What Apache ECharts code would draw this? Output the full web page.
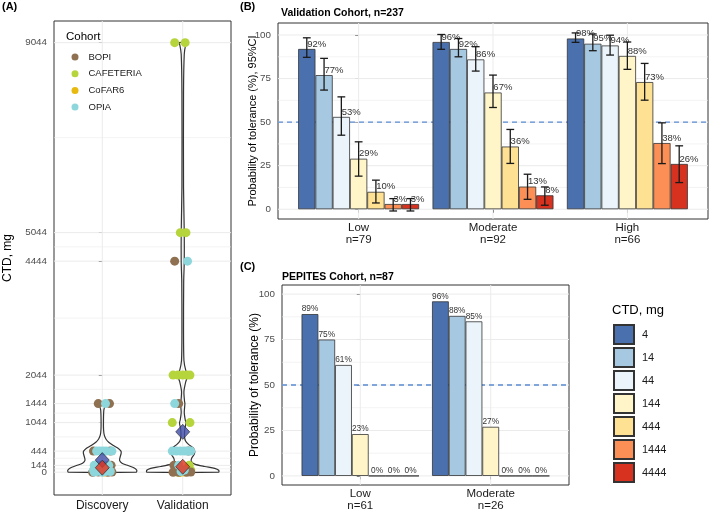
<!DOCTYPE html>
<html>
<head>
<meta charset="utf-8">
<title>CTD tolerance</title>
<script src="https://cdn.jsdelivr.net/npm/echarts@6/dist/echarts.min.js"></script>
<style>
  html, body { margin: 0; padding: 0; background: #fff; }
  #main { width: 709px; height: 518px; }
</style>
</head>
<body>
<div id="main"></div>
<script>
// ---- panel A : CTD distribution ----
var studyGroups = ['Discovery', 'Validation'];
var ctdTicks = [0, 144, 444, 1044, 1444, 2044, 4444, 5044, 9044];
var cohortNames = ['BOPI', 'CAFETERIA', 'CoFAR6', 'OPIA'];
// [group + jitter, CTD]
var bopiPts = [[-0.05, 1444], [0.09, 1444], [-0.11, 444], [0.1, 444], [-0.08, 144], [0.11, 144], [-0.09, 44], [0.1, 14], [-0.05, 4], [0.07, 0], [0.12, 4], [-0.12, 0],
  [0.9, 4444], [0.95, 1444], [1.07, 444], [0.89, 144], [0.9, 14], [0.95, 0], [1.05, 0], [0.88, 0], [1.1, 4]];
var cafeteriaPts = [[0.9, 9044], [1.03, 9044], [0.97, 5044], [1.04, 5044], [0.88, 2044], [0.94, 2044], [1.0, 2044], [1.05, 2044], [1.09, 2044],
  [0.87, 1044], [1.09, 1044], [1.08, 144], [1.1, 44], [0.93, 4], [1.06, 14]];
var cofar6Pts = [[0.03, 4], [1.02, 4], [0.97, 0]];
var opiaPts = [[0.04, 1444], [-0.07, 444], [-0.03, 444], [0.01, 444], [0.05, 444], [0.12, 444], [-0.1, 144], [-0.04, 144], [0.03, 144], [0.08, 144],
  [-0.11, 44], [-0.02, 44], [0.06, 44], [-0.07, 14], [0.04, 14], [-0.1, 4], [0.0, 0], [0.1, 14],
  [1.06, 4444], [0.9, 1444], [0.87, 444], [0.92, 444], [0.97, 444], [1.02, 444], [1.06, 444], [1.1, 444], [0.95, 144], [1.02, 44], [0.98, 14]];
var meanPts = [[0, 255], [1, 850]];
var medianPts = [[0, 95], [1, 115]];
// violin half-widths [CTD, half width in group units]
var discoveryViolin = [[0, .422], [40, .429], [90, .398], [140, .32], [190, .245], [250, .215], [320, .222], [400, .235], [444, .232], [500, .2],
  [560, .14], [630, .08], [700, .045], [780, .025], [900, .016], [1100, .015], [1300, .019], [1380, .031], [1444, .05]];
var validationViolin = [[0, .447], [40, .447], [80, .398], [120, .273], [170, .149], [230, .106], [300, .112], [380, .143], [444, .149], [510, .13],
  [580, .075], [650, .037], [750, .022], [900, .025], [1000, .037], [1044, .04], [1100, .031], [1250, .019], [1400, .025], [1444, .027],
  [1500, .022], [1700, .015], [1900, .037], [2044, .062], [2150, .037], [2350, .015], [3000, .01], [4000, .012], [4444, .019], [5044, .019],
  [6000, .01], [8000, .01], [8800, .019], [9000, .037], [9044, .05]];

// ---- panels B and C : probability of tolerance ----
var ctdLevels = ['4', '14', '44', '144', '444', '1444', '4444'];
var validGroups = ['Low', 'Moderate', 'High'];
var validN = [79, 92, 66];
var validLow = [92, 77, 53, 29, 10, 3, 3];
var validMod = [96, 92, 86, 67, 36, 13, 8];
var validHigh = [98, 95, 94, 88, 73, 38, 26];
var validLowCI = [[87.2, 98.4], [68.4, 86.6], [42.5, 64.5], [19, 38.7], [3.6, 16.7], [-1, 6.1], [-1, 6.1]];
var validModCI = [[91.8, 100.3], [87.5, 98], [79.3, 93.3], [58.4, 77], [26.3, 45.8], [5.7, 20.1], [2.3, 12.8]];
var validHighCI = [[95.8, 101.2], [91, 100.6], [88.5, 99.9], [80.3, 96], [62.6, 83.7], [26.2, 49.6], [15.3, 36.4]];
var pepGroups = ['Low', 'Moderate'];
var pepN = [61, 26];
var pepLow = [89, 75, 61, 23, 0, 0, 0];
var pepMod = [96, 88, 85, 27, 0, 0, 0];
var probTicks = [0, 25, 50, 75, 100];

var font = 'Liberation Sans, Arial, Helvetica, sans-serif';
var cohortColors = ['#8f7152', '#b6d43c', '#e8b90e', '#8dd6dc'];
var ctdColors = ['#4a71ae', '#a6c8e1', '#eaf4fa', '#fff5c8', '#ffe194', '#fb8f56', '#d6321f'];

var chart = echarts.init(document.getElementById('main'));

function gridBox(l, t, w, h) {
  return { left: l, top: t, width: w, height: h, show: true, borderColor: '#333', borderWidth: 1,
    backgroundColor: 'transparent', containLabel: false, outerBoundsMode: 'none' };
}

function xAxisDef(gi, min, max, ticks, fmt, fs, margin) {
  return {
    gridIndex: gi, type: 'value', min: min, max: max,
    axisLine: { show: false }, splitLine: { show: false },
    axisTick: { show: true, length: 3.5, customValues: ticks, lineStyle: { color: '#333' } },
    axisLabel: { customValues: ticks, formatter: fmt, fontSize: fs, lineHeight: 12, margin: margin, color: '#1a1a1a', fontFamily: font }
  };
}

function yAxisDef(gi, min, max, ticks, name, nameSize, gap) {
  return {
    gridIndex: gi, type: 'value', position: 'left', offset: 0, min: min, max: max,
    axisLine: { show: false }, splitLine: { show: false },
    axisTick: { show: true, length: 3.5, customValues: ticks, lineStyle: { color: '#333' } },
    axisLabel: { customValues: ticks, formatter: function (v) { return String(v); }, hideOverlap: false,
      showMinLabel: true, showMaxLabel: true, fontSize: 9.8, margin: 7, color: '#4d4d4d', fontFamily: font },
    name: name, nameLocation: 'middle', nameGap: gap, nameMoveOverlap: false,
    nameTextStyle: { fontSize: nameSize, color: '#000', fontFamily: font }
  };
}

// gridlines: [x, y, kind]  kind 0 = major horizontal, 1 = minor horizontal, 2 = vertical
function gridSeries(idx, hMajor, vMajor) {
  var data = [];
  hMajor.forEach(function (v) { data.push([0, v, 0]); });
  for (var i = 0; i < hMajor.length - 1; i++) data.push([0, (hMajor[i] + hMajor[i + 1]) / 2, 1]);
  vMajor.forEach(function (v) { data.push([v, 0, 2]); });
  return {
    type: 'custom', xAxisIndex: idx, yAxisIndex: idx, z: 1, silent: true, data: data,
    renderItem: function (params, api) {
      var cs = params.coordSys;
      var k = api.value(2);
      if (k < 2) {
        var y = api.coord([0, api.value(1)])[1];
        return { type: 'line', shape: { x1: cs.x, y1: y, x2: cs.x + cs.width, y2: y },
          style: { stroke: '#ebebeb', lineWidth: k === 0 ? 1 : 0.6 } };
      }
      var x = api.coord([api.value(0), 0])[0];
      return { type: 'line', shape: { x1: x, y1: cs.y, x2: x, y2: cs.y + cs.height },
        style: { stroke: '#ebebeb', lineWidth: 1 } };
    }
  };
}

function refLine(idx) {
  return {
    type: 'custom', xAxisIndex: idx, yAxisIndex: idx, z: 1.5, silent: true, data: [[0, 50]],
    renderItem: function (params, api) {
      var cs = params.coordSys;
      var y = api.coord([0, api.value(1)])[1];
      return { type: 'line', shape: { x1: cs.x, y1: y, x2: cs.x + cs.width, y2: y },
        style: { stroke: '#5a8bd2', lineWidth: 1.3, lineDash: [5, 4] } };
    }
  };
}

var violins = [discoveryViolin, validationViolin];
var series = [];
series.push(gridSeries(0, ctdTicks, [0, 1]));
series.push(gridSeries(1, probTicks, [0, 1, 2]));
series.push(gridSeries(2, probTicks, [0, 1]));
series.push(refLine(1));
series.push(refLine(2));

series.push({
  type: 'custom', xAxisIndex: 0, yAxisIndex: 0, z: 2, silent: true, data: [[0, 0], [1, 0]],
  renderItem: function (params, api) {
    var prof = violins[params.dataIndex];
    var cx = api.value(0);
    var pts = [];
    prof.forEach(function (p) { pts.push(api.coord([cx + p[1], p[0]])); });
    for (var i = prof.length - 1; i >= 0; i--) pts.push(api.coord([cx - prof[i][1], prof[i][0]]));
    return { type: 'polygon', shape: { points: pts, smooth: 0.25 },
      style: { fill: 'none', stroke: '#333', lineWidth: 1.2 } };
  }
});

var ptsByCohort = { 'BOPI': bopiPts, 'CAFETERIA': cafeteriaPts, 'CoFAR6': cofar6Pts, 'OPIA': opiaPts };
['CoFAR6', 'CAFETERIA', 'BOPI', 'OPIA'].forEach(function (nm) {
  series.push({
    type: 'scatter', name: nm, xAxisIndex: 0, yAxisIndex: 0, z: 3, symbolSize: 9,
    data: ptsByCohort[nm], itemStyle: { color: cohortColors[cohortNames.indexOf(nm)], opacity: 1 }
  });
});
series.push({ type: 'scatter', name: 'mean', xAxisIndex: 0, yAxisIndex: 0, z: 4, symbol: 'diamond', symbolSize: [14, 15],
  data: meanPts, itemStyle: { color: '#3f4ca7', borderColor: '#222', borderWidth: 0.8 } });
series.push({ type: 'scatter', name: 'median', xAxisIndex: 0, yAxisIndex: 0, z: 4, symbol: 'diamond', symbolSize: [14, 15],
  data: medianPts, itemStyle: { color: '#e2321e', borderColor: '#222', borderWidth: 0.8 } });

var bUnit = 0.9 / 7;
var bWidthB = 430 / 3.2 * bUnit;
var bWidthC = 287 / 2.2 * bUnit;
var validRows = [validLow, validMod, validHigh];
var validCIs = [validLowCI, validModCI, validHighCI];
var pepRows = [pepLow, pepMod];

ctdLevels.forEach(function (lv, j) {
  series.push({
    type: 'bar', name: lv, xAxisIndex: 1, yAxisIndex: 1, z: 2, barWidth: bWidthB, barGap: '0%',
    data: validRows.map(function (r, g) { return [g, r[j]]; }),
    itemStyle: { color: ctdColors[j], borderColor: '#333', borderWidth: 0.8 },
    label: { show: true, position: ['52%', -5], align: 'left', verticalAlign: 'middle',
      formatter: function (p) { return p.value[1] + '%'; }, fontSize: 9.5, color: '#333', fontFamily: font }
  });
});
ctdLevels.forEach(function (lv, j) {
  series.push({
    type: 'bar', name: lv, xAxisIndex: 2, yAxisIndex: 2, z: 2, barWidth: bWidthC, barGap: '0%',
    data: pepRows.map(function (r, g) { return [g, r[j]]; }),
    itemStyle: { color: ctdColors[j], borderColor: '#333', borderWidth: 0.8 },
    label: { show: true, position: 'top', distance: 1,
      formatter: function (p) { return p.value[1] + '%'; }, fontSize: 8.3, color: '#333', fontFamily: font }
  });
});

// error bars: [x, lo, hi]
var errData = [];
validCIs.forEach(function (ci, g) {
  ci.forEach(function (c, j) { errData.push([g + (j - 3) * bUnit, c[0], c[1]]); });
});
series.push({
  type: 'custom', xAxisIndex: 1, yAxisIndex: 1, z: 3, silent: true, data: errData,
  renderItem: function (params, api) {
    var x = api.value(0);
    var top = api.coord([x, api.value(2)]);
    var bot = api.coord([x, api.value(1)]);
    var hw = 3.9;
    var st = { stroke: '#1a1a1a', lineWidth: 1.3 };
    return { type: 'group', children: [
      { type: 'line', shape: { x1: top[0], y1: top[1], x2: bot[0], y2: bot[1] }, style: st },
      { type: 'line', shape: { x1: top[0] - hw, y1: top[1], x2: top[0] + hw, y2: top[1] }, style: st },
      { type: 'line', shape: { x1: bot[0] - hw, y1: bot[1], x2: bot[0] + hw, y2: bot[1] }, style: st }
    ] };
  }
});

function titleDef(text, l, t, fs, bold) {
  return { text: text, left: l, top: t, padding: 0,
    textStyle: { fontSize: fs, fontWeight: bold ? 'bold' : 'normal', color: '#000', fontFamily: font } };
}

// "144" sits right on top of "0": give it its own label-only axis so it is not dropped
var ctdLabelOnly = yAxisDef(0, -480, 9500, [144], '', 12, 40);
ctdLabelOnly.axisTick.show = false;

var option = {
  animation: false,
  backgroundColor: '#fff',
  title: [
    titleDef('(A)', 2, 1, 11, true),
    titleDef('(B)', 240, 1, 11, true),
    titleDef('Validation Cohort, n=237', 281, 8, 10.5, true),
    titleDef('(C)', 240, 261, 11, true),
    titleDef('PEPITES Cohort, n=87', 282, 272, 10.5, true),
    titleDef('Cohort', 66, 31, 11.5, false),
    titleDef('CTD, mg', 612, 304, 13, false)
  ],
  legend: [
    { data: cohortNames, orient: 'vertical', left: 71.5, top: 51, padding: 0, icon: 'circle', itemWidth: 7, itemHeight: 7, itemGap: 4.7,
      selectedMode: false, textStyle: { fontSize: 9.5, lineHeight: 12, color: '#1a1a1a', padding: [0, 0, 0, 5], fontFamily: font } },
    { data: ctdLevels, orient: 'vertical', left: 613, top: 324, padding: 0, icon: 'rect', itemWidth: 20, itemHeight: 19, itemGap: 2,
      selectedMode: false, textStyle: { fontSize: 11, color: '#1a1a1a', padding: [0, 0, 0, 3], fontFamily: font } }
  ],
  grid: [gridBox(54, 21, 177, 474), gridBox(278, 23, 430, 196), gridBox(282, 285, 287, 200)],
  xAxis: [
    xAxisDef(0, -0.6, 1.6, [0, 1], function (v) { return studyGroups[Math.round(v)]; }, 12, 5),
    xAxisDef(1, -0.6, 2.6, [0, 1, 2], function (v) { var i = Math.round(v); return validGroups[i] + '\nn=' + validN[i]; }, 11.5, 3),
    xAxisDef(2, -0.6, 1.6, [0, 1], function (v) { var i = Math.round(v); return pepGroups[i] + '\nn=' + pepN[i]; }, 11.5, 3)
  ],
  yAxis: [
    yAxisDef(0, -480, 9500, [0, 444, 1044, 1444, 2044, 4444, 5044, 9044], 'CTD, mg', 12, 40),
    yAxisDef(1, -5.6, 106.9, probTicks, 'Probability of tolerance (%), 95%CI', 11, 20),
    yAxisDef(2, -5, 105, probTicks, 'Probability of tolerance (%)', 12, 21),
    ctdLabelOnly
  ],
  series: series
};
option.yAxis[0].axisTick.customValues = ctdTicks;
chart.setOption(option);
</script>
</body>
</html>
